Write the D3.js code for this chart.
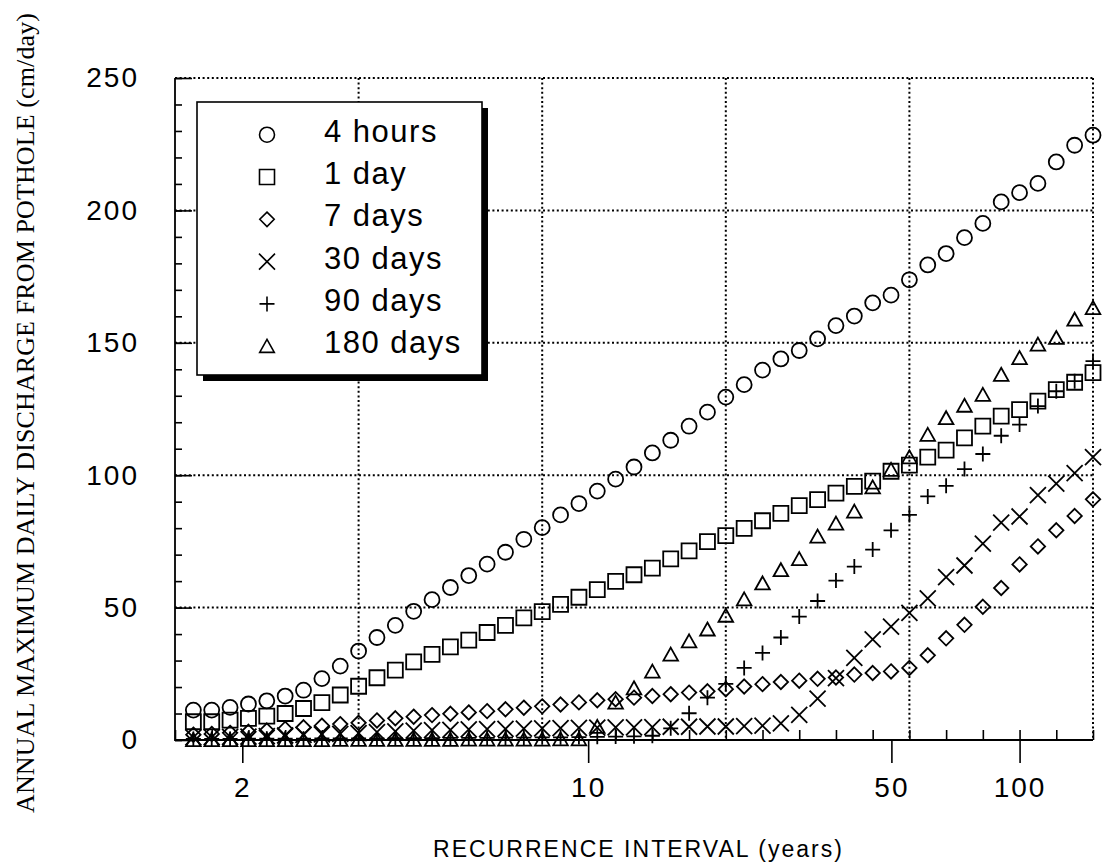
<!DOCTYPE html>
<html>
<head>
<meta charset="utf-8">
<script src="https://cdn.jsdelivr.net/npm/d3@7"></script>
<style>
  html, body { margin: 0; padding: 0; background: #fff; }
  svg { display: block; }
</style>
</head>
<body>
<div id="chart"></div>
<script>
// reduced variate (Gumbel) plotting positions of the 50 points
var reducedVariate = [0.1, 0.2, 0.3, 0.4, 0.5, 0.6, 0.7, 0.8, 0.9, 1.0,
                      1.1, 1.2, 1.3, 1.4, 1.5, 1.6, 1.7, 1.8, 1.9, 2.0,
                      2.1, 2.2, 2.3, 2.4, 2.5, 2.6, 2.7, 2.8, 2.9, 3.0,
                      3.1, 3.2, 3.3, 3.4, 3.5, 3.6, 3.7, 3.8, 3.9, 4.0,
                      4.1, 4.2, 4.3, 4.4, 4.5, 4.6, 4.7, 4.8, 4.9, 5.0];

var hours4 = [11.3, 11.3, 12.3, 13.6, 14.8, 16.6, 18.8, 23.2, 27.9, 33.6,
              38.7, 43.3, 48.6, 53.0, 57.6, 62.1, 66.4, 70.9, 75.8, 80.2,
              85.0, 89.3, 94.0, 98.5, 103.1, 108.4, 113.2, 118.5, 123.8, 129.5,
              134.2, 139.7, 143.9, 147.1, 151.5, 156.5, 160.1, 165.1, 168.0, 173.8,
              179.4, 183.7, 189.7, 195.1, 203.2, 206.7, 210.2, 218.3, 224.6, 228.4];
var day1 = [6.9, 6.9, 7.5, 8.2, 9.0, 10.0, 11.9, 14.1, 17.0, 20.3,
            23.5, 26.4, 29.5, 32.3, 35.2, 37.7, 40.6, 43.3, 46.1, 48.5,
            51.2, 53.9, 56.8, 59.9, 62.4, 64.9, 68.4, 71.4, 74.9, 77.2,
            79.9, 82.8, 85.6, 88.5, 90.8, 93.2, 95.8, 97.8, 101.5, 103.8,
            106.8, 109.5, 114.1, 118.5, 122.3, 124.8, 128.0, 132.3, 135.1, 138.7];
var days7 = [2.0, 2.3, 2.7, 3.1, 3.6, 4.2, 4.8, 5.4, 6.0, 6.5,
             7.4, 8.2, 8.8, 9.4, 9.9, 10.4, 10.9, 11.6, 12.2, 12.7,
             13.4, 14.2, 15.0, 15.4, 16.0, 16.6, 17.3, 17.9, 18.4, 19.2,
             20.2, 21.1, 21.9, 22.4, 23.1, 23.6, 24.7, 25.3, 25.9, 27.2,
             32.0, 38.4, 43.5, 50.3, 57.4, 66.3, 73.1, 79.2, 84.6, 90.9];
var days30 = [1.0, 1.1, 1.2, 1.3, 1.5, 1.7, 1.9, 2.1, 2.3, 2.6,
              3.0, 3.3, 3.5, 3.7, 3.8, 4.0, 4.1, 4.2, 4.3, 4.4,
              4.5, 4.6, 4.7, 4.8, 4.8, 4.9, 5.0, 5.0, 5.1, 5.1,
              5.2, 5.4, 6.3, 9.5, 15.6, 23.4, 31.0, 38.0, 42.8, 48.0,
              53.5, 61.5, 65.9, 74.2, 82.1, 84.4, 92.5, 96.8, 100.8, 106.8];
var days90 = [0.4, 0.4, 0.4, 0.5, 0.5, 0.5, 0.5, 0.6, 0.6, 0.6,
              0.6, 0.7, 0.7, 0.7, 0.8, 0.8, 0.8, 0.9, 0.9, 1.0,
              1.0, 1.1, 1.2, 1.3, 1.4, 1.6, 4.4, 10.1, 16.0, 21.2,
              27.2, 32.9, 38.7, 46.6, 52.5, 60.2, 65.5, 71.9, 79.2, 85.0,
              92.0, 96.0, 102.3, 108.0, 114.9, 119.1, 126.1, 131.7, 135.5, 143.1];
var days180 = [0.0, 0.0, 0.0, 0.0, 0.0, 0.0, 0.0, 0.0, 0.1, 0.1,
               0.1, 0.1, 0.1, 0.1, 0.1, 0.2, 0.2, 0.2, 0.2, 0.2,
               0.3, 0.3, 5.0, 14.2, 19.6, 25.9, 32.3, 37.3, 41.8, 47.0,
               53.2, 59.2, 64.2, 68.4, 76.9, 81.8, 86.3, 95.5, 102.1, 106.8,
               115.3, 121.6, 126.3, 130.4, 138.0, 144.3, 149.4, 151.9, 158.8, 163.2];

var seriesNames = ['4 hours', '1 day', '7 days', '30 days', '90 days', '180 days'];
var seriesValues = [hours4, day1, days7, days30, days90, days180];
var seriesShapes = ['circle', 'square', 'diamond', 'times', 'plus', 'triangle'];

var yearTicks = [2, 10, 50, 100];
var yTickLabels = [0, 50, 100, 150, 200, 250];

var chart_width = 1110, chart_height = 866;
var plotLeft = 175, plotRight = 1093, plotTop = 78, plotBottom = 740;

// Gumbel reduced variate for a recurrence interval
function gumbel(T) { return -Math.log(-Math.log(1 - 1 / T)); }

var x = d3.scaleLinear().domain([0, 5]).range([plotLeft, plotRight]);
var y = d3.scaleLinear().domain([0, 250]).range([plotBottom, plotTop]);

var shapes = {
  circle: 'M7.5,0A7.5,7.5 0 1,1 -7.5,0A7.5,7.5 0 1,1 7.5,0Z',
  square: 'M-7.5,-7.5H7.5V7.5H-7.5Z',
  diamond: 'M0,-7.2L7.2,0L0,7.2L-7.2,0Z',
  times: 'M-8,-8L8,8M-8,8L8,-8',
  plus: 'M-7.5,0H7.5M0,-7.5V7.5',
  triangle: 'M0,-6.8L7.3,6.2H-7.3Z'
};

var svg = d3.select('#chart')
  .append('svg')
  .attr('width', chart_width)
  .attr('height', chart_height);

svg.append('rect').attr('width', chart_width).attr('height', chart_height).attr('fill', '#fff');

// dotted grid
var grid = svg.append('g')
  .attr('stroke', '#000')
  .attr('stroke-width', 2)
  .attr('stroke-dasharray', '2,2.6')
  .attr('fill', 'none');

grid.selectAll('line.v')
  .data([1, 2, 3, 4, 5])
  .enter()
  .append('line')
  .attr('class', 'v')
  .attr('x1', function(d) { return x(d); })
  .attr('x2', function(d) { return x(d); })
  .attr('y1', plotTop)
  .attr('y2', plotBottom);

grid.selectAll('line.h')
  .data([50, 100, 150, 200, 250])
  .enter()
  .append('line')
  .attr('class', 'h')
  .attr('x1', plotLeft)
  .attr('x2', plotRight)
  .attr('y1', function(d) { return y(d); })
  .attr('y2', function(d) { return y(d); });

// y axis: minor ticks every 10, major with labels
var yMinor = svg.append('g')
  .attr('transform', 'translate(' + plotLeft + ',0)')
  .call(d3.axisLeft(y).tickValues(d3.range(0, 251, 10)).tickSize(-7).tickFormat(''));
yMinor.select('.domain').remove();

var yMajor = svg.append('g')
  .attr('transform', 'translate(' + plotLeft + ',0)')
  .call(d3.axisLeft(y).tickValues(yTickLabels).tickSize(-17).tickPadding(36));
yMajor.select('.domain').remove();

// x axis: minor ticks every 0.2 reduced variate, recurrence intervals labelled
var xMinor = svg.append('g')
  .attr('transform', 'translate(0,' + plotBottom + ')')
  .call(d3.axisBottom(x).tickValues(d3.range(0, 5.01, 0.2)).tickSize(-10).tickFormat(''));
xMinor.select('.domain').remove();

var xMajor = svg.append('g')
  .attr('transform', 'translate(0,' + plotBottom + ')')
  .call(d3.axisBottom(x)
    .tickValues(yearTicks.map(gumbel))
    .tickSize(23)
    .tickPadding(14)
    .tickFormat(function(d, i) { return yearTicks[i]; }));
xMajor.select('.domain').remove();

svg.selectAll('.tick line')
  .attr('stroke', '#000')
  .attr('stroke-width', 1.6);

svg.selectAll('.tick text')
  .attr('fill', '#000')
  .style('font-family', '"Liberation Sans", Arial, sans-serif')
  .style('font-size', '28px')
  .style('letter-spacing', '2px');

// solid left and bottom frame
svg.append('path')
  .attr('d', 'M' + plotLeft + ',' + plotTop + 'V' + plotBottom + 'H' + plotRight)
  .attr('fill', 'none')
  .attr('stroke', '#000')
  .attr('stroke-width', 1.8);

// markers
seriesValues.forEach(function(values, s) {
  svg.append('g')
    .selectAll('path')
    .data(values)
    .enter()
    .append('path')
    .attr('d', shapes[seriesShapes[s]])
    .attr('transform', function(d, i) {
      return 'translate(' + x(reducedVariate[i]) + ',' + y(d) + ')';
    })
    .attr('fill', 'none')
    .attr('stroke', '#000')
    .attr('stroke-width', 1.8);
});

// legend with drop shadow
var legend = svg.append('g');
legend.append('rect')
  .attr('x', 203).attr('y', 108)
  .attr('width', 285).attr('height', 273)
  .attr('fill', '#000');
legend.append('rect')
  .attr('x', 197).attr('y', 102)
  .attr('width', 285).attr('height', 273)
  .attr('fill', '#fff')
  .attr('stroke', '#000')
  .attr('stroke-width', 1.6);

var rows = legend.selectAll('g.row')
  .data(seriesNames)
  .enter()
  .append('g')
  .attr('class', 'row')
  .attr('transform', function(d, i) { return 'translate(0,' + (141.7 + i * 42.3) + ')'; });

rows.append('path')
  .attr('d', function(d, i) { return shapes[seriesShapes[i]]; })
  .attr('transform', 'translate(267,-7)')
  .attr('fill', 'none')
  .attr('stroke', '#000')
  .attr('stroke-width', 1.6);

rows.append('text')
  .attr('x', 324)
  .attr('y', 0)
  .text(function(d) { return d; })
  .style('font-family', '"Liberation Sans", Arial, sans-serif')
  .style('font-size', '31px')
  .style('letter-spacing', '1.5px');

// axis titles
svg.append('text')
  .attr('x', 637.5)
  .attr('y', 857)
  .attr('text-anchor', 'middle')
  .attr('textLength', 409)
  .attr('lengthAdjust', 'spacing')
  .style('font-family', '"Liberation Sans", Arial, sans-serif')
  .style('font-size', '23px')
  .text('RECURRENCE INTERVAL (years)');

svg.append('text')
  .attr('transform', 'translate(34,413) rotate(-90)')
  .attr('text-anchor', 'middle')
  .attr('textLength', 800)
  .attr('lengthAdjust', 'spacing')
  .style('font-family', '"Liberation Serif", "Times New Roman", serif')
  .style('font-size', '26px')
  .text('ANNUAL MAXIMUM DAILY DISCHARGE FROM POTHOLE (cm/day)');
</script>
</body>
</html>
